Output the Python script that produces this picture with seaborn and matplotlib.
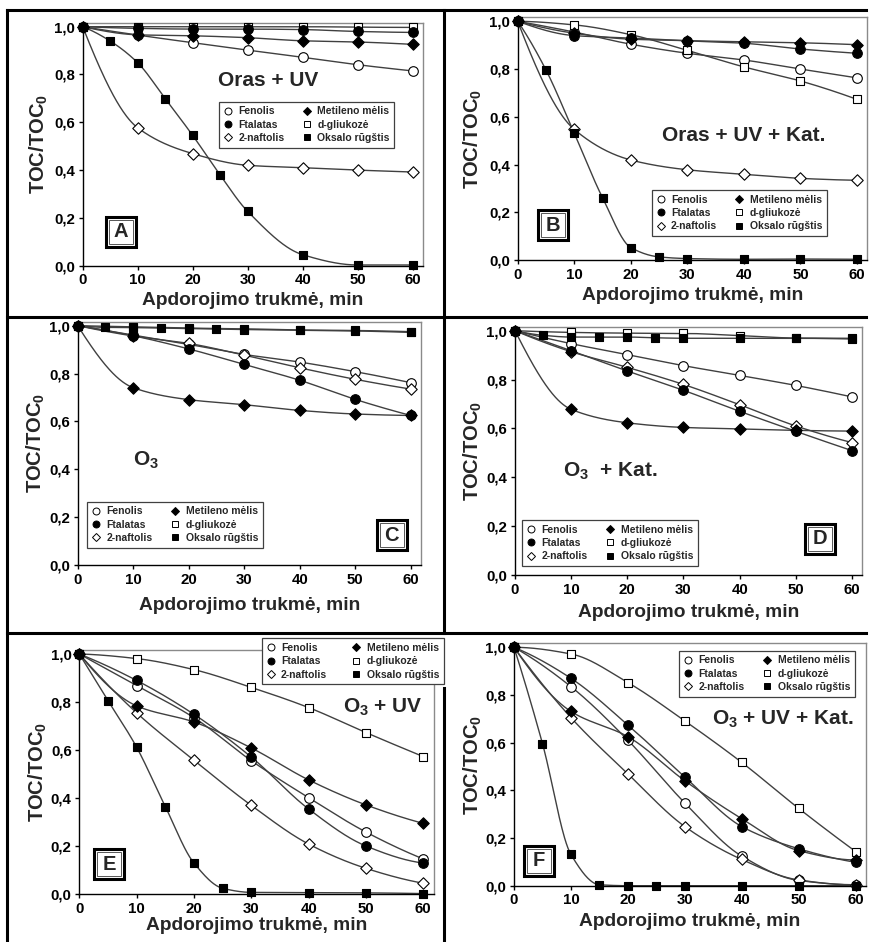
import numpy as np
import matplotlib
matplotlib.use("Agg")
import matplotlib.pyplot as plt
from matplotlib.lines import Line2D
import seaborn as sns

# ---------------- data ----------------
t_main = [0, 10, 20, 30, 40, 50, 60]
t_ox = [0, 5, 10, 15, 20, 25, 30, 40, 50, 60]

series_names = ["Fenolis", "Ftalatas", "2-naftolis", "Metileno mėlis", "d-gliukozė", "Oksalo rūgštis"]
panel_letters = ["A", "B", "C", "D", "E", "F"]
panel_titles = ["Oras + UV", "Oras + UV + Kat.", "O$_3$", "O$_3$  + Kat.", "O$_3$ + UV", "O$_3$ + UV + Kat."]
x_ticks = [0, 10, 20, 30, 40, 50, 60]
x_tick_labels = ["0", "10", "20", "30", "40", "50", "60"]
y_ticks = [0.0, 0.2, 0.4, 0.6, 0.8, 1.0]
y_tick_labels = ["0,0", "0,2", "0,4", "0,6", "0,8", "1,0"]
x_label = "Apdorojimo trukmė, min"
y_label = "TOC/TOC$_\\mathbf{0}$"

A_fenolis = [1.0, 0.965, 0.933, 0.902, 0.872, 0.841, 0.815]
A_ftalatas = [1.0, 0.993, 0.99, 0.99, 0.988, 0.98, 0.976]
A_naftolis = [1.0, 0.577, 0.469, 0.42, 0.41, 0.40, 0.392]
A_metileno = [1.0, 0.966, 0.962, 0.954, 0.941, 0.936, 0.926]
A_gliukoze = [1.0, 1.0, 1.0, 1.0, 1.0, 0.998, 0.997]
A_oksalo = [1.0, 0.94, 0.849, 0.699, 0.545, 0.379, 0.227, 0.046, 0.003, 0.003]

B_fenolis = [1.0, 0.955, 0.904, 0.866, 0.838, 0.80, 0.763]
B_ftalatas = [1.0, 0.94, 0.93, 0.918, 0.908, 0.884, 0.866]
B_naftolis = [1.0, 0.547, 0.419, 0.378, 0.359, 0.342, 0.334]
B_metileno = [1.0, 0.95, 0.925, 0.919, 0.914, 0.91, 0.902]
B_gliukoze = [1.0, 0.985, 0.944, 0.878, 0.809, 0.75, 0.673]
B_oksalo = [1.0, 0.796, 0.531, 0.261, 0.052, 0.013, 0.006, 0.003, 0.004, 0.003]

C_fenolis = [1.0, 0.961, 0.922, 0.88, 0.848, 0.808, 0.762]
C_ftalatas = [1.0, 0.958, 0.903, 0.838, 0.772, 0.692, 0.625]
C_naftolis = [1.0, 0.957, 0.926, 0.877, 0.824, 0.776, 0.735]
C_metileno = [1.0, 0.741, 0.691, 0.67, 0.646, 0.631, 0.625]
C_gliukoze = [1.0, 0.995, 0.99, 0.987, 0.982, 0.98, 0.975]
C_oksalo = [1.0, 0.993, 0.992, 0.99, 0.988, 0.986, 0.984, 0.981, 0.978, 0.972]

D_fenolis = [1.0, 0.947, 0.902, 0.857, 0.817, 0.776, 0.729]
D_ftalatas = [1.0, 0.918, 0.835, 0.756, 0.67, 0.588, 0.509]
D_naftolis = [1.0, 0.914, 0.85, 0.78, 0.697, 0.61, 0.542]
D_metileno = [1.0, 0.678, 0.623, 0.604, 0.598, 0.592, 0.589]
D_gliukoze = [1.0, 0.993, 0.99, 0.989, 0.98, 0.97, 0.969]
D_oksalo = [1.0, 0.981, 0.974, 0.974, 0.974, 0.971, 0.969, 0.969, 0.969, 0.966]

E_fenolis = [1.0, 0.868, 0.735, 0.556, 0.402, 0.259, 0.147]
E_ftalatas = [1.0, 0.89, 0.749, 0.571, 0.355, 0.201, 0.13]
E_naftolis = [1.0, 0.755, 0.558, 0.37, 0.209, 0.108, 0.046]
E_metileno = [1.0, 0.784, 0.717, 0.609, 0.476, 0.372, 0.295]
E_gliukoze = [1.0, 0.981, 0.935, 0.861, 0.777, 0.673, 0.573]
E_oksalo = [1.0, 0.806, 0.612, 0.365, 0.13, 0.025, 0.008, 0.007, 0.006, 0.003]

F_fenolis = [1.0, 0.835, 0.61, 0.347, 0.124, 0.022, 0.004]
F_ftalatas = [1.0, 0.87, 0.674, 0.456, 0.248, 0.155, 0.098]
F_naftolis = [1.0, 0.705, 0.469, 0.248, 0.11, 0.024, 0.003]
F_metileno = [1.0, 0.731, 0.625, 0.44, 0.281, 0.147, 0.108]
F_gliukoze = [1.0, 0.972, 0.852, 0.691, 0.517, 0.324, 0.143]
F_oksalo = [1.0, 0.596, 0.131, 0.004, 0.0, 0.0, 0.0, 0.0, 0.0, 0.0]

panels = [
    [A_fenolis, A_ftalatas, A_naftolis, A_metileno, A_gliukoze, A_oksalo],
    [B_fenolis, B_ftalatas, B_naftolis, B_metileno, B_gliukoze, B_oksalo],
    [C_fenolis, C_ftalatas, C_naftolis, C_metileno, C_gliukoze, C_oksalo],
    [D_fenolis, D_ftalatas, D_naftolis, D_metileno, D_gliukoze, D_oksalo],
    [E_fenolis, E_ftalatas, E_naftolis, E_metileno, E_gliukoze, E_oksalo],
    [F_fenolis, F_ftalatas, F_naftolis, F_metileno, F_gliukoze, F_oksalo],
]

# ---------------- styles / layout ----------------
marker_styles = [("o", "white"), ("o", "black"), ("D", "white"),
                 ("D", "black"), ("s", "white"), ("s", "black")]
marker_sizes = [48, 48, 34, 34, 38, 38]

W, H = 870, 942
XM, YM = 61.8, 1.016
# pixel anchors per panel: x of data 0, x of data 60, y of data 1.0, y of data 0
anchors = [
    (82.7, 412.7, 26.7, 265.7),
    (517.7, 857.0, 21.3, 260.0),
    (77.7, 410.7, 325.7, 565.0),
    (515.0, 852.0, 330.7, 575.0),
    (79.3, 423.3, 654.0, 894.3),
    (514.0, 855.7, 647.3, 885.7),
]
title_pos = [(24.6, 0.773), (25.6, 0.52), (10.0, 0.436),
             (8.5, 0.423), (46.0, 0.78), (34.8, 0.698)]
letter_pos = [(7.0, 0.142), (6.3, 0.145), (56.6, 0.124),
              (54.3, 0.149), (5.2, 0.125), (4.36, 0.104)]
legend_pos = [(219, 101.7), (651.7, 190), (87.3, 501.7),
              (522.3, 520), (261.7, 638.3), (679.3, 650.7)]
legend_colsp = [1.75, 1.75, 1.75, 1.75, 2.4, 1.75]
ylab_off = [-32.4, -34, -30.7, -31.3, -30.6, -30.3]
xlab_off = [26.0, 27.5, 31.5, 29.2, 22.5, 27.5]

sns.set_style("ticks")
plt.rcParams["font.family"] = ["Liberation Sans", "DejaVu Sans"]
plt.rcParams["mathtext.fontset"] = "custom"
plt.rcParams["mathtext.rm"] = "Liberation Sans:bold"
plt.rcParams["mathtext.bf"] = "Liberation Sans:bold"
plt.rcParams["mathtext.it"] = "Liberation Sans:bold:italic"


def pchip(x, y, xs):
    x = np.asarray(x, float)
    y = np.asarray(y, float)
    h = np.diff(x)
    delta = np.diff(y) / h
    n = len(x)
    d = np.zeros(n)
    for k in range(1, n - 1):
        if delta[k - 1] * delta[k] > 0:
            w1 = 2 * h[k] + h[k - 1]
            w2 = h[k] + 2 * h[k - 1]
            d[k] = (w1 + w2) / (w1 / delta[k - 1] + w2 / delta[k])

    def end(h0, h1, d0, d1):
        v = ((2 * h0 + h1) * d0 - h0 * d1) / (h0 + h1)
        if np.sign(v) != np.sign(d0):
            v = 0.0
        elif np.sign(d0) != np.sign(d1) and abs(v) > abs(3 * d0):
            v = 3 * d0
        return v

    d[0] = end(h[0], h[1], delta[0], delta[1])
    d[-1] = end(h[-1], h[-2], delta[-1], delta[-2])
    idx = np.clip(np.searchsorted(x, xs) - 1, 0, n - 2)
    hh = h[idx]
    t = (xs - x[idx]) / hh
    h00 = 2 * t**3 - 3 * t**2 + 1
    h10 = t**3 - 2 * t**2 + t
    h01 = -2 * t**3 + 3 * t**2
    h11 = t**3 - t**2
    return h00 * y[idx] + h10 * hh * d[idx] + h01 * y[idx + 1] + h11 * hh * d[idx + 1]


fig = plt.figure(figsize=(W / 100, H / 100), dpi=100)
xs = np.linspace(0, 60, 400)

for p, series in enumerate(panels):
    x0, x60, y1, y0 = anchors[p]
    wpx = (x60 - x0) / 60 * XM
    hpx = (y0 - y1) * YM
    ax = fig.add_axes([x0 / W, 1 - y0 / H, wpx / W, hpx / H])
    ax.set_facecolor("white")
    for i, vals in enumerate(series):
        tt = t_ox if i == 5 else t_main
        curve = pchip(tt, vals, xs)
        sns.lineplot(x=xs, y=curve, ax=ax, color="#404040", lw=1.0,
                     estimator=None, sort=False, zorder=2)
    for i, vals in enumerate(series):
        tt = t_ox if i == 5 else t_main
        m, fc = marker_styles[i]
        sns.scatterplot(x=tt, y=vals, ax=ax, marker=m, color=fc,
                        edgecolor="black", linewidth=0.8, s=marker_sizes[i],
                        zorder=3 + (1 if fc == "black" else 0), clip_on=False)
    ax.set_xlim(0, XM)
    ax.set_ylim(0, YM)
    ax.set_xticks(x_ticks)
    ax.set_xticklabels(x_tick_labels)
    ax.set_yticks(y_ticks)
    ax.set_yticklabels(y_tick_labels)
    ax.tick_params(direction="out", length=3, width=1, pad=2.5,
                   labelsize=10.8, colors="black")
    for lab in ax.get_xticklabels() + ax.get_yticklabels():
        lab.set_fontweight("bold")
    for s in ["left", "bottom"]:
        ax.spines[s].set_color("black")
        ax.spines[s].set_linewidth(1.0)
    for s in ["top", "right"]:
        ax.spines[s].set_visible(True)
        ax.spines[s].set_color("#8a8a8a")
        ax.spines[s].set_linewidth(1.0)
    ax.set_xlabel(x_label, fontsize=13.8, fontweight="bold")
    ax.set_ylabel(y_label, fontsize=14.5, fontweight="bold")
    ax.yaxis.set_label_coords(ylab_off[p] / wpx, 0.5)
    ax.xaxis.set_label_coords(0.5, -xlab_off[p] / hpx)

    tx, ty = title_pos[p]
    ax.text(tx, ty, panel_titles[p], fontsize=15, fontweight="bold",
            ha="left", va="center")

    lx, ly = letter_pos[p]
    ax.plot([lx], [ly], marker="s", ms=21, mfc="white", mec="black",
            mew=2.2, zorder=6, clip_on=False)
    ax.plot([lx], [ly], marker="s", ms=17.2, mfc="none", mec="#555555",
            mew=0.7, zorder=6.5, clip_on=False)
    ax.text(lx, ly, panel_letters[p], fontsize=14.5, fontweight="bold",
            ha="center", va="center", zorder=7)

    handles = []
    for i, name in enumerate(series_names):
        m, fc = marker_styles[i]
        handles.append(Line2D([], [], ls="none", marker=m, mfc=fc, mec="black",
                              mew=0.7, ms=5 if m != "D" else 4.3, label=name))
    gx, gy = legend_pos[p]
    leg = ax.legend(handles=handles, ncol=2, loc="upper left",
                    bbox_to_anchor=(gx / W, 1 - gy / H),
                    bbox_transform=fig.transFigure, borderaxespad=0,
                    prop={"size": 7.5, "weight": "bold"}, frameon=True,
                    fancybox=False, framealpha=1, edgecolor="#404040",
                    borderpad=0.45, labelspacing=0.32, handlelength=0.8,
                    handletextpad=0.6, columnspacing=legend_colsp[p])
    leg.get_frame().set_linewidth(0.9)
    leg.set_zorder(8)

# panel divider lines
def fline(xa, ya, xb, yb):
    fig.add_artist(Line2D([xa / W, xb / W], [1 - ya / H, 1 - yb / H],
                          transform=fig.transFigure, color="black", lw=2.2,
                          solid_capstyle="projecting"))

fline(7.5, 10, 866, 10)
fline(7.5, 10, 7.5, 942)
fline(443.5, 10, 443.5, 633)
fline(443.5, 688, 443.5, 942)
fline(7.5, 317, 866, 317)
fline(7.5, 633, 866, 633)

fig.savefig("out.png", dpi=100)
